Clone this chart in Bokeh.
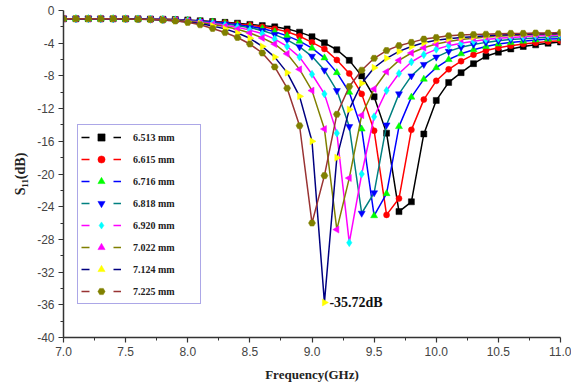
import math
from bokeh.plotting import figure
from bokeh.models import (Range1d, FixedTicker, NumeralTickFormatter, Legend,
                          LegendItem, Label)
from bokeh.embed import file_html
from bokeh.resources import INLINE

# ---------------- data ----------------
freq_ghz = [7.0, 7.1, 7.2, 7.3, 7.4, 7.5, 7.6, 7.7, 7.8, 7.9,
            8.0, 8.1, 8.2, 8.3, 8.4, 8.5, 8.6, 8.7, 8.8, 8.9,
            9.0, 9.1, 9.2, 9.3, 9.4, 9.5, 9.6, 9.7, 9.8, 9.9,
            10.0, 10.1, 10.2, 10.3, 10.4, 10.5, 10.6, 10.7, 10.8, 10.9, 11.0]

s11_6513 = [-1.0, -1.0, -1.0, -1.0, -1.0, -1.0, -1.02, -1.04, -1.07, -1.1,
            -1.15, -1.25, -1.35, -1.45, -1.55, -1.7, -1.85, -2.0, -2.25, -2.65,
            -3.2, -3.95, -4.8, -6.1, -8.0, -10.55, -15.0, -24.6, -23.4, -15.1,
            -11.0, -8.8, -7.6, -6.5, -5.6, -5.1, -4.7, -4.4, -4.2, -4.0, -3.85]
s11_6615 = [-1.0, -1.0, -1.0, -1.0, -1.0, -1.0, -1.02, -1.05, -1.08, -1.12,
            -1.2, -1.3, -1.4, -1.5, -1.65, -1.8, -2.0, -2.25, -2.6, -3.15,
            -3.9, -4.7, -6.05, -7.7, -10.2, -14.7, -25.0, -23.0, -14.6, -10.9,
            -8.6, -7.2, -6.2, -5.4, -4.9, -4.55, -4.3, -4.1, -3.95, -3.8, -3.7]
s11_6716 = [-1.0, -1.0, -1.0, -1.0, -1.0, -1.02, -1.03, -1.05, -1.1, -1.15,
            -1.22, -1.3, -1.4, -1.55, -1.75, -1.95, -2.2, -2.6, -3.1, -3.75,
            -4.6, -5.8, -7.6, -10.0, -14.5, -25.1, -22.4, -14.2, -10.6, -8.4,
            -7.0, -6.0, -5.3, -4.8, -4.4, -4.1, -3.9, -3.75, -3.6, -3.5, -3.45]
s11_6818 = [-1.0, -1.0, -1.0, -1.0, -1.0, -1.02, -1.04, -1.06, -1.1, -1.16,
            -1.25, -1.35, -1.5, -1.65, -1.85, -2.1, -2.45, -2.95, -3.6, -4.45,
            -5.6, -7.3, -9.8, -14.2, -24.8, -22.3, -14.0, -10.2, -8.0, -6.6,
            -5.7, -5.0, -4.5, -4.15, -3.9, -3.7, -3.55, -3.45, -3.35, -3.25, -3.2]
s11_6920 = [-1.0, -1.0, -1.0, -1.0, -1.0, -1.02, -1.04, -1.07, -1.12, -1.18,
            -1.28, -1.42, -1.6, -1.8, -2.05, -2.4, -2.85, -3.5, -4.4, -5.7,
            -7.8, -10.2, -15.0, -28.4, -20.0, -13.0, -9.8, -7.7, -6.3, -5.4,
            -4.75, -4.3, -4.0, -3.75, -3.55, -3.4, -3.3, -3.2, -3.1, -3.05, -3.0]
s11_7022 = [-1.0, -1.0, -1.0, -1.0, -1.0, -1.02, -1.05, -1.08, -1.13, -1.2,
            -1.32, -1.5, -1.7, -1.95, -2.3, -2.75, -3.35, -4.1, -5.3, -7.2,
            -9.8, -14.5, -26.8, -20.5, -12.8, -9.6, -7.5, -6.1, -5.2, -4.55,
            -4.1, -3.8, -3.55, -3.4, -3.25, -3.15, -3.05, -3.0, -2.95, -2.9, -2.9]
s11_7124 = [-1.0, -1.0, -1.0, -1.0, -1.0, -1.03, -1.05, -1.09, -1.15, -1.25,
            -1.4, -1.6, -1.9, -2.25, -2.75, -3.4, -4.4, -5.7, -7.6, -10.5,
            -16.0, -35.72, -18.0, -12.1, -8.9, -7.0, -5.85, -5.0, -4.4, -3.95,
            -3.65, -3.45, -3.3, -3.2, -3.1, -3.0, -2.95, -2.9, -2.85, -2.85, -2.8]
s11_7225 = [-1.0, -1.0, -1.0, -1.0, -1.0, -1.03, -1.06, -1.1, -1.17, -1.28,
            -1.45, -1.75, -2.2, -2.7, -3.3, -4.1, -5.2, -6.9, -9.5, -14.1,
            -26.0, -20.2, -12.7, -9.3, -7.3, -5.85, -4.9, -4.3, -3.9, -3.5,
            -3.3, -3.1, -3.0, -2.95, -2.9, -2.85, -2.8, -2.8, -2.75, -2.75, -2.7]

series_labels = ["6.513 mm", "6.615 mm", "6.716 mm", "6.818 mm",
                 "6.920 mm", "7.022 mm", "7.124 mm", "7.225 mm"]
series_values = [s11_6513, s11_6615, s11_6716, s11_6818,
                 s11_6920, s11_7022, s11_7124, s11_7225]

x_ticks = [7.0, 7.5, 8.0, 8.5, 9.0, 9.5, 10.0, 10.5, 11.0]
x_minor = [7.25, 7.75, 8.25, 8.75, 9.25, 9.75, 10.25, 10.75]
y_ticks = [0, -4, -8, -12, -16, -20, -24, -28, -32, -36, -40]
y_minor = [-2, -6, -10, -14, -18, -22, -26, -30, -34, -38]

min_label = "-35.72dB"
min_freq = 9.1
min_s11 = -35.72

# ---------------- styles ----------------
line_colors = ["#000000", "#ff0000", "#0000ff", "#008080",
               "#ff00ff", "#808000", "#000080", "#993333"]
marker_colors = ["#000000", "#ff0000", "#00ff00", "#0000ff",
                 "#00ffff", "#ff00ff", "#ffff00", "#808000"]
markers = ["square", "circle", "triangle", "inverted_triangle",
           "diamond", "triangle", "triangle", "hex"]
marker_angles = [0, 0, 0, 0, 0, math.pi / 2, -math.pi / 2, 0]
marker_sizes = [6, 6, 7, 7, 8, 7, 7, 7]

SERIF = "Liberation Serif"
SANS = "Liberation Sans"
NAN = float("nan")

p = figure(width=571, height=385, output_backend="svg", toolbar_location=None,
           x_range=Range1d(7, 11), y_range=Range1d(-40, 0),
           min_border_left=63, min_border_right=11, min_border_top=10,
           min_border_bottom=48)
p.grid.visible = False
p.outline_line_color = None
p.background_fill_color = "white"

items = []
for lab, vals, lc, mc, mk, ang, ms in zip(series_labels, series_values, line_colors,
                                          marker_colors, markers, marker_angles,
                                          marker_sizes):
    p.line(freq_ghz, vals, line_color=lc, line_width=1.5)
    sc = p.scatter(freq_ghz, vals, marker=mk, size=ms, angle=ang,
                   fill_color=mc, line_color=mc, line_width=0.5)
    proxy = p.line(x=[NAN, NAN], y=[NAN, NAN], line_color=lc, line_width=1.5,
                   line_dash="8 24")
    items.append(LegendItem(label=lab, renderers=[proxy, sc]))

legend = Legend(items=items, location=(14, 33), padding=3, spacing=4,
                glyph_width=40, glyph_height=18, label_height=18, label_width=64,
                label_standoff=12, margin=0,
                label_text_font=SERIF, label_text_font_style="bold",
                label_text_font_size="10px", label_text_color="#222222",
                border_line_color="#5a50d0", border_line_width=1.5,
                background_fill_color="white", background_fill_alpha=1.0)
p.add_layout(legend)

p.add_layout(Label(x=min_freq, y=min_s11, text=min_label, x_offset=5,
                   text_baseline="middle", text_font=SERIF,
                   text_font_style="bold", text_font_size="14px",
                   text_color="#111111"))

for ax in (p.xaxis[0], p.yaxis[0]):
    ax.axis_line_color = "#333333"
    ax.axis_line_width = 1.5
    ax.major_tick_line_color = "#333333"
    ax.minor_tick_line_color = "#333333"
    ax.major_tick_line_width = 1.2
    ax.minor_tick_line_width = 1.0
    ax.major_tick_out = 5
    ax.major_tick_in = 0
    ax.minor_tick_out = 3
    ax.minor_tick_in = 0
    ax.major_label_text_font = SANS
    ax.major_label_text_font_size = "12px"
    ax.major_label_text_color = "#444444"
    ax.major_label_standoff = 4
    ax.axis_label_text_font = SERIF
    ax.axis_label_text_font_style = "bold"
    ax.axis_label_text_color = "#222222"

p.xaxis.ticker = FixedTicker(ticks=x_ticks, minor_ticks=x_minor)
p.yaxis.ticker = FixedTicker(ticks=y_ticks, minor_ticks=y_minor)
p.xaxis.formatter = NumeralTickFormatter(format="0.0")
p.yaxis.formatter = NumeralTickFormatter(format="0")
p.xaxis.axis_label = "Frequency(GHz)"
p.yaxis.axis_label = "S\u2081\u2081(dB)"
p.xaxis.axis_label_text_font_size = "13px"
p.yaxis.axis_label_text_font_size = "14px"
p.xaxis.axis_label_standoff = 8
p.yaxis.axis_label_standoff = 6

open("out.html", "w").write(file_html(p, INLINE))
